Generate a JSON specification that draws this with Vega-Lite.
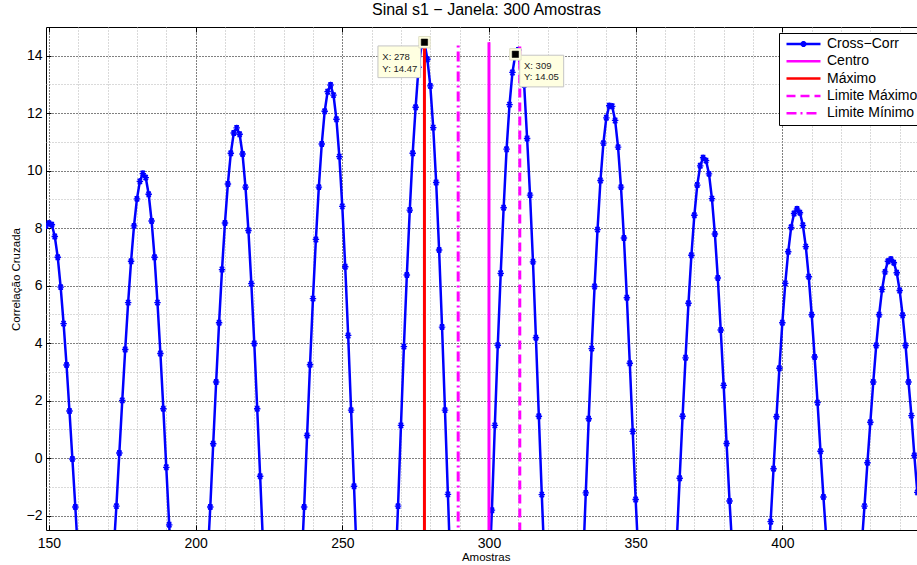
{
  "$schema": "https://vega.github.io/schema/vega-lite/v6.json",
  "width": 871,
  "height": 503,
  "autosize": {"type": "none"},
  "padding": {"left": 46, "top": 27, "right": 0, "bottom": 35},
  "background": "white",
  "title": {"text": "Sinal s1 − Janela: 300 Amostras", "font": "Liberation Sans", "fontSize": 16, "fontWeight": "normal", "color": "black", "baseline": "alphabetic", "offset": 10, "dx": 5, "dy": 14, "frame": "group"},
  "config": {
    "view": {"stroke": "black", "strokeWidth": 1},
    "font": "Liberation Sans",
    "axis": {"labelFont": "Liberation Sans", "titleFont": "Liberation Sans", "labelColor": "black", "titleColor": "black", "labelFlush": false, "domain": false},
    "legend": {"orient": "none", "legendX": 733, "legendY": 6, "padding": 4, "strokeColor": "black", "fillColor": "white", "cornerRadius": 0, "labelFont": "Liberation Sans", "labelFontSize": 14, "labelColor": "black", "symbolType": "M-1,0H1", "symbolSize": 1156, "symbolStrokeWidth": 2.5, "symbolOffset": 2, "labelOffset": 5, "rowPadding": 3.3, "clipHeight": 14, "labelLimit": 300}
  },
  "datasets": {
    "main": [
      {"x":149,"y":8.08},{"x":150,"y":8.17},{"x":151,"y":8.12},{"x":152,"y":7.71},{"x":153,"y":6.99},{"x":154,"y":5.95},{"x":155,"y":4.68},{"x":156,"y":3.24},{"x":157,"y":1.64},{"x":158,"y":-0.03},
      {"x":159,"y":-1.70},{"x":160,"y":-3.50},{"x":161,"y":-5.05},{"x":162,"y":-6.41},{"x":163,"y":-7.52},{"x":164,"y":-8.34},{"x":165,"y":-8.84},{"x":166,"y":-9.00},{"x":167,"y":-8.81},{"x":168,"y":-8.28},
      {"x":169,"y":-7.43},{"x":170,"y":-6.28},{"x":171,"y":-4.91},{"x":172,"y":-3.33},{"x":173,"y":-1.67},{"x":174,"y":0.18},{"x":175,"y":2.01},{"x":176,"y":3.78},{"x":177,"y":5.41},{"x":178,"y":6.85},
      {"x":179,"y":8.08},{"x":180,"y":9.02},{"x":181,"y":9.63},{"x":182,"y":9.90},{"x":183,"y":9.76},{"x":184,"y":9.18},{"x":185,"y":8.25},{"x":186,"y":6.99},{"x":187,"y":5.41},{"x":188,"y":3.64},
      {"x":189,"y":1.72},{"x":190,"y":-0.32},{"x":191,"y":-2.32},{"x":192,"y":-4.44},{"x":193,"y":-6.27},{"x":194,"y":-7.84},{"x":195,"y":-9.12},{"x":196,"y":-10.04},{"x":197,"y":-10.57},{"x":198,"y":-10.70},
      {"x":199,"y":-10.40},{"x":200,"y":-9.71},{"x":201,"y":-8.65},{"x":202,"y":-7.25},{"x":203,"y":-5.56},{"x":204,"y":-3.67},{"x":205,"y":-1.70},{"x":206,"y":0.50},{"x":207,"y":2.65},{"x":208,"y":4.71},
      {"x":209,"y":6.56},{"x":210,"y":8.18},{"x":211,"y":9.54},{"x":212,"y":10.61},{"x":213,"y":11.31},{"x":214,"y":11.49},{"x":215,"y":11.27},{"x":216,"y":10.58},{"x":217,"y":9.43},{"x":218,"y":7.92},
      {"x":219,"y":6.07},{"x":220,"y":3.99},{"x":221,"y":1.72},{"x":222,"y":-0.63},{"x":223,"y":-3.04},{"x":224,"y":-5.30},{"x":225,"y":-7.36},{"x":226,"y":-9.14},{"x":227,"y":-10.56},{"x":228,"y":-11.57},
      {"x":229,"y":-12.13},{"x":230,"y":-12.23},{"x":231,"y":-11.85},{"x":232,"y":-11.01},{"x":233,"y":-9.75},{"x":234,"y":-8.11},{"x":235,"y":-6.16},{"x":236,"y":-3.97},{"x":237,"y":-1.70},{"x":238,"y":0.79},
      {"x":239,"y":3.25},{"x":240,"y":5.55},{"x":241,"y":7.61},{"x":242,"y":9.43},{"x":243,"y":10.93},{"x":244,"y":12.07},{"x":245,"y":12.75},{"x":246,"y":12.98},{"x":247,"y":12.63},{"x":248,"y":11.79},
      {"x":249,"y":10.49},{"x":250,"y":8.76},{"x":251,"y":6.66},{"x":252,"y":4.27},{"x":253,"y":1.67},{"x":254,"y":-0.98},{"x":255,"y":-3.67},{"x":256,"y":-6.20},{"x":257,"y":-8.48},{"x":258,"y":-10.44},
      {"x":259,"y":-11.99},{"x":260,"y":-13.08},{"x":261,"y":-13.65},{"x":262,"y":-13.71},{"x":263,"y":-13.23},{"x":264,"y":-12.24},{"x":265,"y":-10.78},{"x":266,"y":-8.90},{"x":267,"y":-6.67},{"x":268,"y":-4.19},
      {"x":269,"y":-1.67},{"x":270,"y":1.14},{"x":271,"y":3.88},{"x":272,"y":6.37},{"x":273,"y":8.63},{"x":274,"y":10.61},{"x":275,"y":12.21},{"x":276,"y":13.60},{"x":277,"y":14.35},{"x":278,"y":14.47},
      {"x":279,"y":13.88},{"x":280,"y":12.95},{"x":281,"y":11.50},{"x":282,"y":9.59},{"x":283,"y":7.24},{"x":284,"y":4.56},{"x":285,"y":1.67},{"x":286,"y":-1.26},{"x":287,"y":-4.25},{"x":288,"y":-6.94},
      {"x":289,"y":-9.35},{"x":290,"y":-11.43},{"x":291,"y":-13.04},{"x":292,"y":-14.16},{"x":293,"y":-14.73},{"x":294,"y":-14.73},{"x":295,"y":-14.16},{"x":296,"y":-13.04},{"x":297,"y":-11.43},{"x":298,"y":-9.35},
      {"x":299,"y":-6.94},{"x":300,"y":-4.25},{"x":301,"y":-1.81},{"x":302,"y":1.14},{"x":303,"y":3.93},{"x":304,"y":6.43},{"x":305,"y":8.71},{"x":306,"y":10.75},{"x":307,"y":12.30},{"x":308,"y":13.42},
      {"x":309,"y":14.05},{"x":310,"y":14.20},{"x":311,"y":13.80},{"x":312,"y":12.98},{"x":313,"y":11.12},{"x":314,"y":9.15},{"x":315,"y":6.83},{"x":316,"y":4.19},{"x":317,"y":1.46},{"x":318,"y":-1.27},
      {"x":319,"y":-3.82},{"x":320,"y":-6.24},{"x":321,"y":-8.41},{"x":322,"y":-10.27},{"x":323,"y":-11.72},{"x":324,"y":-12.73},{"x":325,"y":-13.23},{"x":326,"y":-13.23},{"x":327,"y":-12.73},{"x":328,"y":-11.72},
      {"x":329,"y":-10.27},{"x":330,"y":-8.41},{"x":331,"y":-6.24},{"x":332,"y":-3.82},{"x":333,"y":-1.21},{"x":334,"y":1.37},{"x":335,"y":3.81},{"x":336,"y":5.97},{"x":337,"y":7.95},{"x":338,"y":9.66},
      {"x":339,"y":10.96},{"x":340,"y":11.84},{"x":341,"y":12.26},{"x":342,"y":12.24},{"x":343,"y":11.75},{"x":344,"y":10.82},{"x":345,"y":9.43},{"x":346,"y":7.66},{"x":347,"y":5.58},{"x":348,"y":3.30},
      {"x":349,"y":0.93},{"x":350,"y":-1.44},{"x":351,"y":-3.58},{"x":352,"y":-5.61},{"x":353,"y":-7.43},{"x":354,"y":-8.97},{"x":355,"y":-10.16},{"x":356,"y":-10.95},{"x":357,"y":-11.32},{"x":358,"y":-11.26},
      {"x":359,"y":-10.76},{"x":360,"y":-9.84},{"x":361,"y":-8.53},{"x":362,"y":-6.91},{"x":363,"y":-5.02},{"x":364,"y":-2.93},{"x":365,"y":-0.70},{"x":366,"y":1.46},{"x":367,"y":3.49},{"x":368,"y":5.39},
      {"x":369,"y":7.06},{"x":370,"y":8.45},{"x":371,"y":9.50},{"x":372,"y":10.17},{"x":373,"y":10.45},{"x":374,"y":10.35},{"x":375,"y":9.89},{"x":376,"y":9.03},{"x":377,"y":7.80},{"x":378,"y":6.27},
      {"x":379,"y":4.46},{"x":380,"y":2.53},{"x":381,"y":0.51},{"x":382,"y":-1.49},{"x":383,"y":-3.28},{"x":384,"y":-4.97},{"x":385,"y":-6.47},{"x":386,"y":-7.72},{"x":387,"y":-8.67},{"x":388,"y":-9.28},
      {"x":389,"y":-9.55},{"x":390,"y":-9.43},{"x":391,"y":-8.96},{"x":392,"y":-8.14},{"x":393,"y":-7.00},{"x":394,"y":-5.60},{"x":395,"y":-3.96},{"x":396,"y":-2.21},{"x":397,"y":-0.37},{"x":398,"y":1.44},
      {"x":399,"y":3.13},{"x":400,"y":4.71},{"x":401,"y":6.08},{"x":402,"y":7.18},{"x":403,"y":8.03},{"x":404,"y":8.51},{"x":405,"y":8.67},{"x":406,"y":8.54},{"x":407,"y":8.10},{"x":408,"y":7.36},
      {"x":409,"y":6.31},{"x":410,"y":4.99},{"x":411,"y":3.52},{"x":412,"y":1.93},{"x":413,"y":0.24},{"x":414,"y":-1.35},{"x":415,"y":-2.81},{"x":416,"y":-4.19},{"x":417,"y":-5.39},{"x":418,"y":-6.39},
      {"x":419,"y":-7.14},{"x":420,"y":-7.62},{"x":421,"y":-7.80},{"x":422,"y":-7.68},{"x":423,"y":-7.26},{"x":424,"y":-6.56},{"x":425,"y":-5.61},{"x":426,"y":-4.45},{"x":427,"y":-3.10},{"x":428,"y":-1.67},
      {"x":429,"y":-0.16},{"x":430,"y":1.25},{"x":431,"y":2.65},{"x":432,"y":3.92},{"x":433,"y":4.99},{"x":434,"y":5.87},{"x":435,"y":6.48},{"x":436,"y":6.85},{"x":437,"y":6.92},{"x":438,"y":6.80},
      {"x":439,"y":6.45},{"x":440,"y":5.83},{"x":441,"y":4.97},{"x":442,"y":3.92},{"x":443,"y":2.65},{"x":444,"y":1.48},{"x":445,"y":0.09},{"x":446,"y":-1.19}
    ],
    "rules": [
      {"serie": "Centro", "x": 300, "y": -14.73, "y2": 14.47},
      {"serie": "Máximo", "x": 278, "y": -14.73, "y2": 14.47},
      {"serie": "Limite Máximo", "x": 310.5, "y": -14.73, "y2": 14.47},
      {"serie": "Limite Mínimo", "x": 289.5, "y": -14.73, "y2": 14.47}
    ],
    "tips": [
      {"tip": 1, "x": 278, "y": 14.47, "label": "X: 278\nY: 14.47"},
      {"tip": 2, "x": 309, "y": 14.05, "label": "X: 309\nY: 14.05"}
    ]
  },
  "layer": [
    {
      "data": {"name": "main"},
      "mark": {"type": "line", "strokeWidth": 2.5, "clip": true},
      "encoding": {
        "x": {"field": "x", "type": "quantitative", "scale": {"domain": [149, 445.9], "nice": false, "zero": false},
          "axis": {"orient": "bottom", "values": [150, 200, 250, 300, 350, 400], "grid": true, "gridColor": "black", "gridDash": [1, 2], "gridWidth": 1, "gridOpacity": 1, "ticks": false, "tickSize": 0, "labelFontSize": 14, "labelBaseline": "alphabetic", "labelPadding": 17, "labelFlush": false, "title": "Amostras", "titleFontSize": 11.5, "titleFontWeight": "normal", "titleX": 439.7, "titleY": 30.5, "titleBaseline": "alphabetic", "titleAlign": "center", "titleAnchor": null}},
        "y": {"field": "y", "type": "quantitative", "scale": {"domain": [-2.5, 15], "nice": false, "zero": false},
          "axis": {"orient": "left", "values": [-2, 0, 2, 4, 6, 8, 10, 12, 14], "grid": true, "gridColor": "black", "gridDash": [1, 2], "gridWidth": 1, "gridOpacity": 1, "ticks": false, "tickSize": 0, "labelFontSize": 14, "labelPadding": 4, "labelFlush": false, "title": "Correlação Cruzada", "titleFontSize": 11.5, "titleFontWeight": "normal", "titleX": -26.5, "titleY": 252, "titleAngle": 270, "titleBaseline": "alphabetic", "titleAlign": "center"}},
        "color": {"datum": "Cross−Corr", "type": "nominal",
          "scale": {"domain": ["Cross−Corr", "Centro", "Máximo", "Limite Máximo", "Limite Mínimo"], "range": ["#0000ff", "#ff00ff", "#ff0000", "#ff00ff", "#ff00ff"]},
          "legend": {"title": null, "encode": {"symbols": {"update": {"shape": {"signal": "datum.value === 'Cross−Corr' ? 'M-1,0H1M0,-0.17V0.17M-0.12,-0.12L0.12,0.12M-0.12,0.12L0.12,-0.12M-0.17,0H0.17' : 'M-1,0H1'"}}}}}}
      }
    },
    {
      "data": {"name": "main"},
      "mark": {"type": "point", "shape": "M-1,0H1M0,-1V1M-0.7,-0.7L0.7,0.7M-0.7,0.7L0.7,-0.7M-0.7,-0.7H0.7M-0.7,0.7H0.7", "filled": false, "size": 42, "strokeWidth": 1.4, "opacity": 1, "clip": true},
      "encoding": {
        "x": {"field": "x", "type": "quantitative",
          "axis": {"orient": "bottom", "values": [160, 170, 180, 190, 210, 220, 230, 240, 260, 270, 280, 290, 310, 320, 330, 340, 360, 370, 380, 390, 410, 420, 430, 440], "grid": true, "gridColor": "#b4b4b4", "gridDash": [1, 2], "gridWidth": 1, "gridOpacity": 1, "ticks": false, "labels": false, "title": null}},
        "y": {"field": "y", "type": "quantitative",
          "axis": {"orient": "left", "values": [-1, 1, 3, 5, 7, 9, 11, 13], "grid": true, "gridColor": "#b4b4b4", "gridDash": [1, 2], "gridWidth": 1, "gridOpacity": 1, "ticks": false, "labels": false, "title": null}},
        "color": {"datum": "Cross−Corr", "type": "nominal"}
      }
    },
    {
      "data": {"name": "rules"},
      "mark": {"type": "rule", "strokeWidth": 3, "clip": true},
      "encoding": {
        "x": {"field": "x", "type": "quantitative",
          "axis": {"orient": "top", "values": [150, 200, 250, 300, 350, 400], "grid": false, "ticks": true, "tickSize": -5, "tickColor": "black", "tickWidth": 1, "labels": false, "title": null}},
        "y": {"field": "y", "type": "quantitative",
          "axis": {"orient": "left", "values": [-2, 0, 2, 4, 6, 8, 10, 12, 14], "grid": false, "ticks": true, "tickSize": -5, "tickColor": "black", "tickWidth": 1, "labels": false, "title": null}},
        "y2": {"field": "y2"},
        "color": {"field": "serie", "type": "nominal"},
        "strokeDash": {"field": "serie", "type": "nominal",
          "scale": {"domain": ["Cross−Corr", "Centro", "Máximo", "Limite Máximo", "Limite Mínimo"], "range": [[1, 0], [1, 0], [1, 0], [9, 5], [10, 4, 2, 4]]},
          "legend": {"title": null, "encode": {"symbols": {"update": {"shape": {"signal": "datum.value === 'Cross−Corr' ? 'M-1,0H1M0,-0.17V0.17M-0.12,-0.12L0.12,0.12M-0.12,0.12L0.12,-0.12M-0.17,0H0.17' : 'M-1,0H1'"}}}}}}
      }
    },
    {
      "data": {"name": "tips"},
      "transform": [{"filter": "datum.tip === 1"}],
      "mark": {"type": "point", "shape": "M-0.93,0.074H-0.076V0.708H-0.93Z", "size": 10000, "filled": true, "fill": "#ffffe1", "stroke": "#c4c4c4", "strokeWidth": 1, "opacity": 1},
      "encoding": {
        "x": {"field": "x", "type": "quantitative",
          "axis": {"orient": "bottom", "values": [150, 200, 250, 300, 350, 400], "grid": false, "ticks": true, "tickSize": -5, "tickColor": "black", "tickWidth": 1, "labels": false, "title": null}},
        "y": {"field": "y", "type": "quantitative", "axis": null}
      }
    },
    {
      "data": {"name": "tips"},
      "transform": [{"filter": "datum.tip === 2"}],
      "mark": {"type": "point", "shape": "M0.086,0.018H0.966V0.652H0.086Z", "size": 10000, "filled": true, "fill": "#ffffe1", "stroke": "#c4c4c4", "strokeWidth": 1, "opacity": 1},
      "encoding": {
        "x": {"field": "x", "type": "quantitative", "axis": null},
        "y": {"field": "y", "type": "quantitative", "axis": null}
      }
    },
    {
      "data": {"name": "tips"},
      "mark": {"type": "point", "shape": "square", "size": 130, "filled": true, "fill": "#ffffe1", "stroke": "#e0e0c8", "strokeWidth": 1, "opacity": 1},
      "encoding": {
        "x": {"field": "x", "type": "quantitative", "axis": null},
        "y": {"field": "y", "type": "quantitative", "axis": null}
      }
    },
    {
      "data": {"name": "tips"},
      "mark": {"type": "point", "shape": "square", "size": 42, "filled": true, "fill": "black", "stroke": "black", "strokeWidth": 0.5, "opacity": 1},
      "encoding": {
        "x": {"field": "x", "type": "quantitative", "axis": null},
        "y": {"field": "y", "type": "quantitative", "axis": null}
      }
    },
    {
      "data": {"name": "tips"},
      "transform": [{"filter": "datum.tip === 1"}],
      "mark": {"type": "text", "align": "left", "baseline": "alphabetic", "dx": -42.1, "dy": 17.8, "fontSize": 9.5, "lineHeight": 11.6, "lineBreak": "\n", "font": "Liberation Sans", "color": "#222222"},
      "encoding": {
        "x": {"field": "x", "type": "quantitative", "axis": null},
        "y": {"field": "y", "type": "quantitative", "axis": null},
        "text": {"field": "label"}
      }
    },
    {
      "data": {"name": "tips"},
      "transform": [{"filter": "datum.tip === 2"}],
      "mark": {"type": "text", "align": "left", "baseline": "alphabetic", "dx": 8.6, "dy": 14.3, "fontSize": 9.5, "lineHeight": 11.6, "lineBreak": "\n", "font": "Liberation Sans", "color": "#222222"},
      "encoding": {
        "x": {"field": "x", "type": "quantitative", "axis": null},
        "y": {"field": "y", "type": "quantitative", "axis": null},
        "text": {"field": "label"}
      }
    }
  ],
  "resolve": {"axis": {"x": "independent", "y": "independent"}}
}
